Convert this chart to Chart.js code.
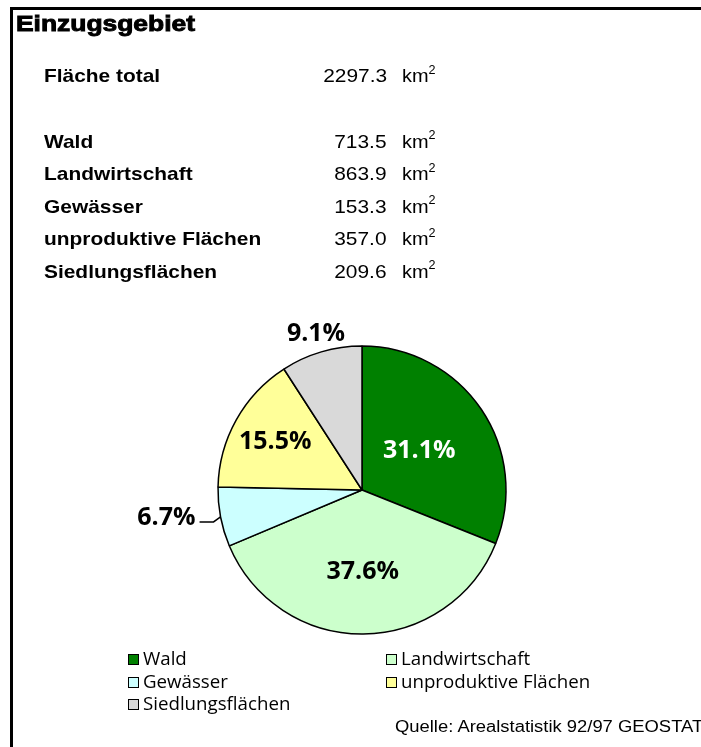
<!DOCTYPE html>
<html>
<head>
<meta charset="utf-8">
<script src="https://cdn.jsdelivr.net/npm/chart.js@4/dist/chart.umd.min.js"></script>
<style>
  html, body { margin: 0; padding: 0; background: #fff; }
  #page { position: relative; width: 701px; height: 747px; overflow: hidden; background: #fff; }
  #frame { position: absolute; left: 10px; top: 7px; right: -10px; bottom: -10px;
           border-top: 3px solid #000; border-left: 3px solid #000; }
  #chartBox { position: absolute; left: 0; top: 0; width: 701px; height: 747px; }
  .txt { position: absolute; white-space: nowrap; font-family: "Liberation Sans", Arial, sans-serif; color: #000; }
  #title { left: 16px; top: 13px; font-size: 22px; line-height: 22px; font-weight: bold;
           -webkit-text-stroke: 0.9px #000; transform: scaleX(1.2); transform-origin: left top; }
  .name { left: 44px; font-size: 19px; line-height: 19px; font-weight: bold; transform: scaleX(1.1); transform-origin: left top; }
  .val { right: 314px; font-size: 19px; line-height: 19px; text-align: right; transform: scaleX(1.1); transform-origin: right top; }
  .unit { left: 402px; font-size: 19px; line-height: 19px; transform: scaleX(1.05); transform-origin: left top; }
  .unit sup { font-size: 12px; position: relative; top: -1px; vertical-align: super; line-height: 0; }
  .leg { position: absolute; font-family: "Open Sans", "Noto Sans", sans-serif; font-size: 18.7px; line-height: 18px; white-space: nowrap; }
  .leg .box { position: absolute; left: 0; top: 1px; width: 9px; height: 9px; border: 1.5px solid #000; }
  .leg .lt { position: absolute; left: 15px; top: -4px; }
  #source { left: 395px; top: 719px; font-size: 16px; line-height: 16px; transform: scaleX(1.15); transform-origin: left top; }
</style>
</head>
<body>
<div id="page">
  <div id="chartBox"><canvas id="c" width="701" height="747"></canvas></div>
  <div id="frame"></div>
  <div id="title" class="txt">Einzugsgebiet</div>
  <div id="table"></div>
  <div id="legend"></div>
  <div id="source" class="txt">Quelle: Arealstatistik 92/97 GEOSTAT</div>
</div>
<script>
// ---- data ----
const categories = ['Wald', 'Landwirtschaft', 'Gewässer', 'unproduktive Flächen', 'Siedlungsflächen'];
const areaKm2 = [713.5, 863.9, 153.3, 357.0, 209.6];
const totalLabel = 'Fläche total';
const totalKm2 = 2297.3;
const unitLabel = 'km';
const sliceColors = ['#008000', '#CCFFCC', '#CCFFFF', '#FFFF99', '#D9D9D9'];
const labelColors = ['#FFFFFF', '#000000', '#000000', '#000000', '#000000'];
const labelRadius = [0.48, 0.57, 0, 0.69, 1.13]; // 0 = outside with leader line

// ---- text table ----
const table = document.getElementById('table');
function addRow(name, value, baseline) {
  const top = baseline - 16.1;
  const n = document.createElement('div');
  n.className = 'txt name'; n.style.top = top + 'px'; n.textContent = name;
  const v = document.createElement('div');
  v.className = 'txt val'; v.style.top = top + 'px'; v.textContent = value.toFixed(1);
  const u = document.createElement('div');
  u.className = 'txt unit'; u.style.top = top + 'px';
  u.innerHTML = unitLabel + '<sup>2</sup>';
  table.appendChild(n); table.appendChild(v); table.appendChild(u);
}
addRow(totalLabel, totalKm2, 82.5);
categories.forEach((c, i) => addRow(c, areaKm2[i], 147.7 + i * 32.5));

// ---- legend ----
const legend = document.getElementById('legend');
categories.forEach((c, i) => {
  const col = i % 2, row = Math.floor(i / 2);
  const d = document.createElement('div');
  d.className = 'leg';
  d.style.left = (col === 0 ? 128 : 386) + 'px';
  d.style.top = (653 + row * 22.5) + 'px';
  d.innerHTML = '<div class="box" style="background:' + sliceColors[i] + '"></div><div class="lt"></div>';
  d.querySelector('.lt').textContent = c;
  legend.appendChild(d);
});

// ---- pie labels plugin ----
const pieLabels = {
  id: 'pieLabels',
  afterDatasetsDraw(chart) {
    const ctx = chart.ctx;
    const meta = chart.getDatasetMeta(0);
    const data = chart.data.datasets[0].data;
    const sum = data.reduce((a, b) => a + b, 0);
    ctx.save();
    ctx.font = 'bold 25px "Open Sans", "Noto Sans", sans-serif';
    ctx.textBaseline = 'middle';
    meta.data.forEach((arc, i) => {
      const p = arc.getProps(['x', 'y', 'startAngle', 'endAngle', 'outerRadius'], true);
      const mid = (p.startAngle + p.endAngle) / 2;
      const txt = (data[i] / sum * 100).toFixed(1) + '%';
      ctx.fillStyle = labelColors[i];
      if (labelRadius[i] > 0) {
        const r = p.outerRadius * labelRadius[i];
        ctx.textAlign = 'center';
        ctx.fillText(txt, p.x + Math.cos(mid) * r, p.y + Math.sin(mid) * r);
      } else {
        const x0 = p.x + Math.cos(mid) * p.outerRadius;
        const y0 = p.y + Math.sin(mid) * p.outerRadius;
        const x1 = x0 - 7, y1 = y0 + 5;
        ctx.strokeStyle = '#000'; ctx.lineWidth = 1.5;
        ctx.beginPath(); ctx.moveTo(x0, y0); ctx.lineTo(x1, y1); ctx.lineTo(x1 - 14, y1); ctx.stroke();
        ctx.textAlign = 'right';
        ctx.fillText(txt, x1 - 18, y1 - 4);
      }
    });
    ctx.restore();
  }
};

new Chart(document.getElementById('c'), {
  type: 'pie',
  data: {
    labels: categories,
    datasets: [{
      data: areaKm2,
      backgroundColor: sliceColors,
      borderColor: '#000000',
      borderWidth: 1.5
    }]
  },
  options: {
    responsive: false,
    maintainAspectRatio: false,
    animation: false,
    radius: 144,
    layout: { padding: { left: 223, right: 200, top: 343, bottom: 110 } },
    plugins: { legend: { display: false }, tooltip: { enabled: false }, title: { display: false } },
    events: []
  },
  plugins: [pieLabels]
});
</script>
</body>
</html>
